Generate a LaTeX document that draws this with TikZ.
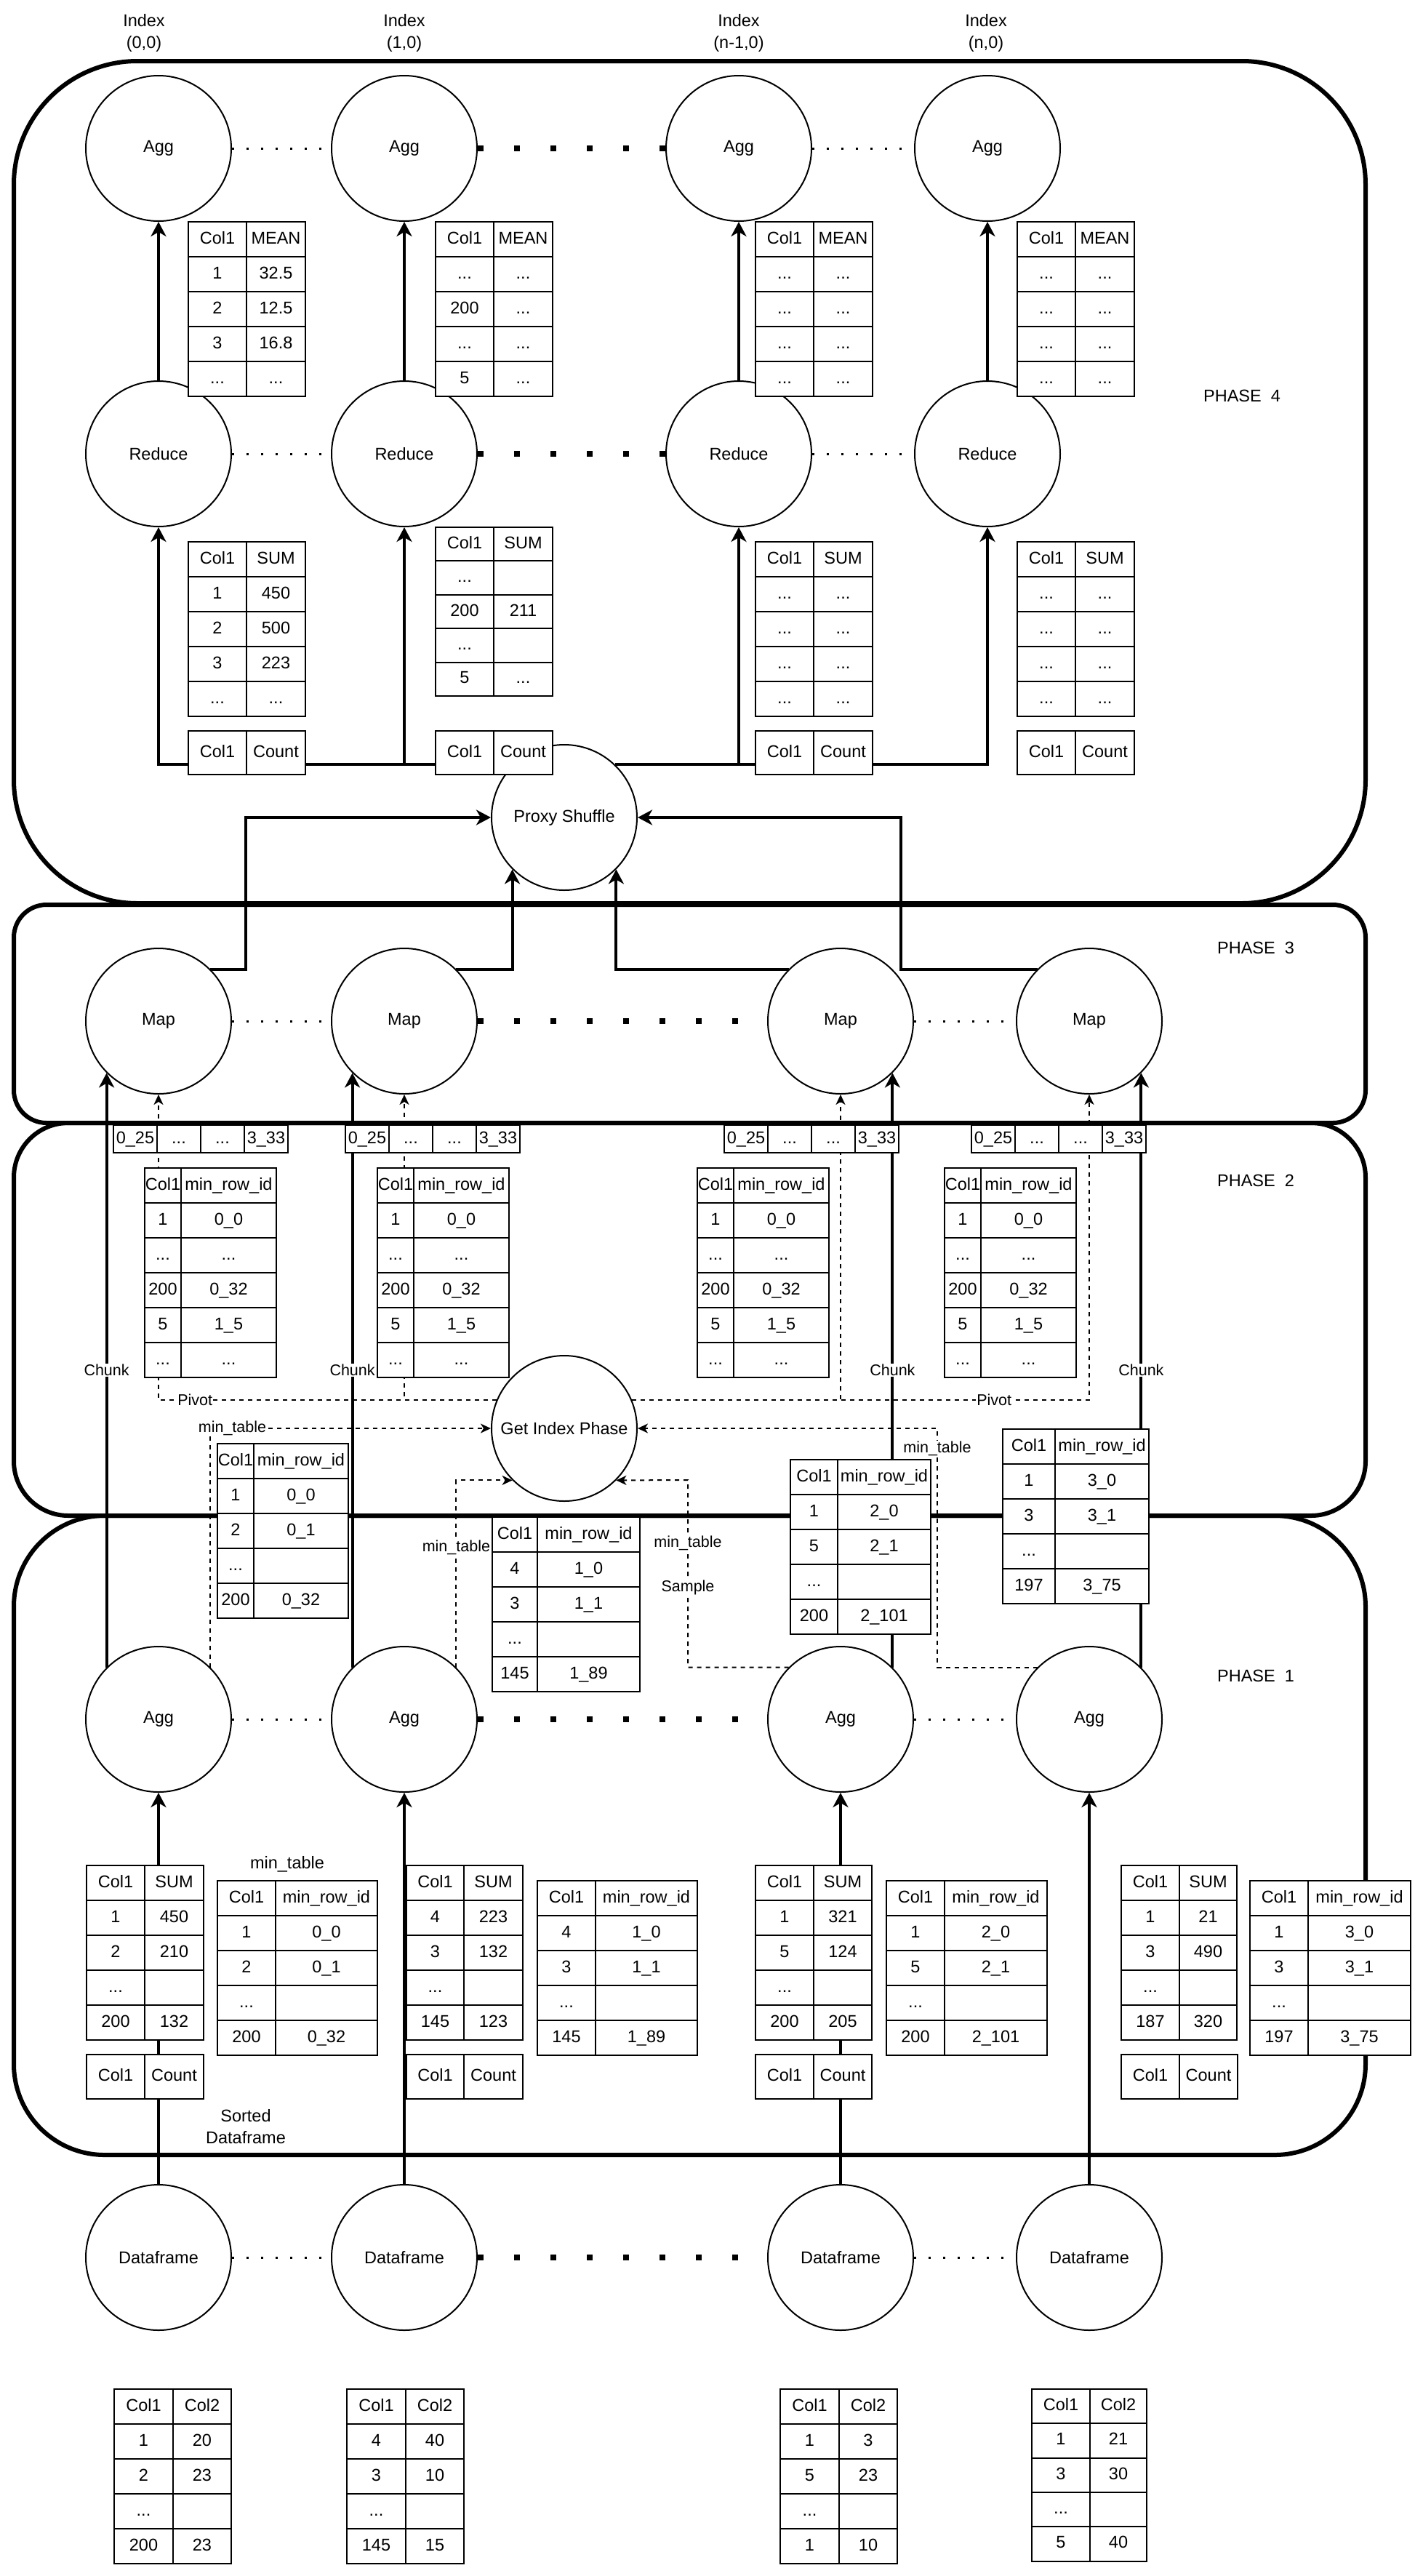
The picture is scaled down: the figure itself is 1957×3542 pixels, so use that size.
\documentclass[tikz,border=0pt]{standalone}
\usepackage{fontspec}
\setmainfont{Liberation Sans}
\usetikzlibrary{arrows.meta,matrix}

\tikzset{
  phasebox/.style={line width=6pt, rounded corners=#1},
  circ/.style={circle, draw, line width=2pt, fill=white, minimum size=200pt, inner sep=0pt},
  flow/.style={line width=4pt, -{Stealth[length=20pt,width=21pt,inset=6pt]}},
  dsh/.style={line width=2pt, dash pattern=on 6pt off 6pt, -{Stealth[length=14pt,width=13pt,inset=4pt]}},
  fdots/.style={line width=3pt, dash pattern=on 3pt off 17pt},
  bdots/.style={line width=8pt, dash pattern=on 8pt off 42pt},
  lbl/.style={fill=white, inner sep=1pt, font=\fontsize{21.5}{26}\selectfont},
  tbl/.style={matrix of nodes, nodes in empty cells, anchor=north west, inner sep=0pt, outer sep=0pt,
    column sep=-2pt, row sep=-2pt,
    nodes={draw, line width=2pt, fill=white, inner sep=0pt, text height=17pt, text depth=5pt, minimum height=#1}},
  tbl/.default=48pt,
  cw/.style 2 args={column 1/.style={nodes={minimum width=#1}}, column 2/.style={nodes={minimum width=#2}}},
}

\begin{document}
\begin{tikzpicture}[x=1pt, y=-1pt, every node/.style={font=\fontsize{23.5}{30}\selectfont}]
\useasboundingbox (0,0) rectangle (1957,3542);

% phases
\draw[phasebox=170pt] (19,84) rectangle (1878,1242);
\draw[phasebox=45pt] (19,1244) rectangle (1878,1544);
\draw[phasebox=75pt] (19,1544) rectangle (1878,2084);
\draw[phasebox=125pt] (19,2084) rectangle (1878,2963);

% phase 4
\node[circ] (agg1) at (218,204) {Agg};
\node[circ] (agg2) at (556,204) {Agg};
\node[circ] (agg3) at (1016,204) {Agg};
\node[circ] (agg4) at (1358,204) {Agg};
\node[circ] (red1) at (218,624) {Reduce};
\node[circ] (red2) at (556,624) {Reduce};
\node[circ] (red3) at (1016,624) {Reduce};
\node[circ] (red4) at (1358,624) {Reduce};
\node[circ] (ps) at (776,1124) {Proxy Shuffle};

% phase 3
\node[circ] (map1) at (218,1404) {Map};
\node[circ] (map2) at (556,1404) {Map};
\node[circ] (map3) at (1156,1404) {Map};
\node[circ] (map4) at (1498,1404) {Map};

% phase 2
\node[circ] (gip) at (776,1964) {Get Index Phase};

% phase 1
\node[circ] (pa1) at (218,2364) {Agg};
\node[circ] (pa2) at (556,2364) {Agg};
\node[circ] (pa3) at (1156,2364) {Agg};
\node[circ] (pa4) at (1498,2364) {Agg};

% input
\node[circ] (df1) at (218,3104) {Dataframe};
\node[circ] (df2) at (556,3104) {Dataframe};
\node[circ] (df3) at (1156,3104) {Dataframe};
\node[circ] (df4) at (1498,3104) {Dataframe};

% dotted rows
\draw[fdots] (agg1) -- (agg2);
\draw[bdots] (agg2) -- (agg3);
\draw[fdots] (agg3) -- (agg4);
\draw[fdots] (red1) -- (red2);
\draw[bdots] (red2) -- (red3);
\draw[fdots] (red3) -- (red4);
\draw[fdots] (map1) -- (map2);
\draw[bdots] (map2) -- (map3);
\draw[fdots] (map3) -- (map4);
\draw[fdots] (pa1) -- (pa2);
\draw[bdots] (pa2) -- (pa3);
\draw[fdots] (pa3) -- (pa4);
\draw[fdots] (df1) -- (df2);
\draw[bdots] (df2) -- (df3);
\draw[fdots] (df3) -- (df4);

% solid flow
\draw[flow] (red1) -- (agg1);
\draw[flow] (red2) -- (agg2);
\draw[flow] (red3) -- (agg3);
\draw[flow] (red4) -- (agg4);
\draw[flow] (ps.134) -| (red1);
\draw[flow] (ps.134) -| (red2);
\draw[flow] (ps.46) -| (red3);
\draw[flow] (ps.46) -| (red4);
\draw[flow] (map1.45) -- ++(49,0) |- (ps);
\draw[flow] (map2.45) -| (ps.-135);
\draw[flow] (map3.135) -| (ps.-45);
\draw[flow] (map4.135) -- ++(-188,0) |- (ps);
\draw[flow] (pa1.135) -- node[lbl] (chunk1) {Chunk} (map1.-135);
\draw[flow] (pa2.135) -- node[lbl] (chunk2) {Chunk} (map2.-135);
\draw[flow] (pa3.45) -- node[lbl] (chunk3) {Chunk} (map3.-45);
\draw[flow] (pa4.45) -- node[lbl] (chunk4) {Chunk} (map4.-45);
\draw[flow] (df1) -- (pa1);
\draw[flow] (df2) -- (pa2);
\draw[flow] (df3) -- (pa3);
\draw[flow] (df4) -- (pa4);

% dashed flow
\draw[dsh] (gip.157) -| node[lbl, pos=0.446] (pivl) {Pivot} (map1);
\draw[dsh] (gip.157) -| (map2);
\draw[dsh] (gip.23) -| (map3);
\draw[dsh] (gip.23) -| node[lbl, pos=0.396] (pivr) {Pivot} (map4);
\draw[dsh] (pa1.45) |- node[lbl, pos=0.539] (mtl1) {min\_table} (gip);
\draw[dsh] (pa2.45) |- node[lbl, pos=0.32] (mtl2) {min\_table} (gip.-135);
\coordinate (bend3) at (946,2035);
\coordinate (bend4) at (1289,1964);
\draw[dsh] (pa3.135) -| node[lbl, pos=0.832] (mtl3) {min\_table} node[lbl, pos=0.712] (smp) {Sample} (bend3) -- (gip.-45);
\draw[dsh] (pa4.135) -| node[lbl, pos=0.957] (mtl4) {min\_table} (bend4) -- (gip);

% tables, phase 4
\matrix (mean1) [tbl, cw={80pt}{81pt}] at (258,304) {Col1 & MEAN\\ 1 & 32.5\\ 2 & 12.5\\ 3 & 16.8\\ ... & ...\\};
\matrix (mean2) [tbl, cw={80pt}{81pt}] at (598,304) {Col1 & MEAN\\ ... & ...\\ 200 & ...\\ ... & ...\\ 5 & ...\\};
\matrix (mean3) [tbl, cw={80pt}{81pt}] at (1038,304) {Col1 & MEAN\\ ... & ...\\ ... & ...\\ ... & ...\\ ... & ...\\};
\matrix (mean4) [tbl, cw={80pt}{81pt}] at (1398,304) {Col1 & MEAN\\ ... & ...\\ ... & ...\\ ... & ...\\ ... & ...\\};
\matrix (sum1) [tbl, cw={80pt}{81pt}] at (258,744) {Col1 & SUM\\ 1 & 450\\ 2 & 500\\ 3 & 223\\ ... & ...\\};
\matrix (sum2) [tbl=46.4pt, cw={80pt}{81pt}] at (598,724) {Col1 & SUM\\ ... & \\ 200 & 211\\ ... & \\ 5 & ...\\};
\matrix (sum3) [tbl, cw={80pt}{81pt}] at (1038,744) {Col1 & SUM\\ ... & ...\\ ... & ...\\ ... & ...\\ ... & ...\\};
\matrix (sum4) [tbl, cw={80pt}{81pt}] at (1398,744) {Col1 & SUM\\ ... & ...\\ ... & ...\\ ... & ...\\ ... & ...\\};
\matrix (cnt1) [tbl=60pt, cw={80pt}{81pt}] at (258,1004) {Col1 & Count\\};
\matrix (cnt2) [tbl=60pt, cw={80pt}{81pt}] at (598,1004) {Col1 & Count\\};
\matrix (cnt3) [tbl=60pt, cw={80pt}{81pt}] at (1038,1004) {Col1 & Count\\};
\matrix (cnt4) [tbl=60pt, cw={80pt}{81pt}] at (1398,1004) {Col1 & Count\\};

% tables, phase 2
\matrix (piv1) [tbl=38pt, nodes={minimum width=60pt}] at (155,1546) {0\_25 & ... & ... & 3\_33\\};
\matrix (piv2) [tbl=38pt, nodes={minimum width=60pt}] at (474,1546) {0\_25 & ... & ... & 3\_33\\};
\matrix (piv3) [tbl=38pt, nodes={minimum width=60pt}] at (995,1546) {0\_25 & ... & ... & 3\_33\\};
\matrix (piv4) [tbl=38pt, nodes={minimum width=60pt}] at (1335,1546) {0\_25 & ... & ... & 3\_33\\};
\matrix (rid1) [tbl=48pt, cw={50pt}{131pt}] at (198,1605) {Col1 & min\_row\_id\\ 1 & 0\_0\\ ... & ...\\ 200 & 0\_32\\ 5 & 1\_5\\ ... & ...\\};
\matrix (rid2) [tbl=48pt, cw={50pt}{131pt}] at (518,1605) {Col1 & min\_row\_id\\ 1 & 0\_0\\ ... & ...\\ 200 & 0\_32\\ 5 & 1\_5\\ ... & ...\\};
\matrix (rid3) [tbl=48pt, cw={50pt}{131pt}] at (958,1605) {Col1 & min\_row\_id\\ 1 & 0\_0\\ ... & ...\\ 200 & 0\_32\\ 5 & 1\_5\\ ... & ...\\};
\matrix (rid4) [tbl=48pt, cw={50pt}{131pt}] at (1298,1605) {Col1 & min\_row\_id\\ 1 & 0\_0\\ ... & ...\\ 200 & 0\_32\\ 5 & 1\_5\\ ... & ...\\};
\matrix (smp1) [tbl=48pt, cw={50pt}{130pt}] at (298,1984) {Col1 & min\_row\_id\\ 1 & 0\_0\\ 2 & 0\_1\\ ... & \\ 200 & 0\_32\\};
\matrix (smp2) [tbl=48pt, cw={62pt}{141pt}] at (676,2085) {Col1 & min\_row\_id\\ 4 & 1\_0\\ 3 & 1\_1\\ ... & \\ 145 & 1\_89\\};
\matrix (smp3) [tbl=48pt, cw={65pt}{128pt}] at (1086,2006) {Col1 & min\_row\_id\\ 1 & 2\_0\\ 5 & 2\_1\\ ... & \\ 200 & 2\_101\\};
\matrix (smp4) [tbl=48pt, cw={72pt}{129pt}] at (1378,1964) {Col1 & min\_row\_id\\ 1 & 3\_0\\ 3 & 3\_1\\ ... & \\ 197 & 3\_75\\};

% tables, phase 1
\matrix (s1) [tbl, cw={80pt}{81pt}] at (118,2564) {Col1 & SUM\\ 1 & 450\\ 2 & 210\\ ... & \\ 200 & 132\\};
\matrix (c1) [tbl=61pt, cw={80pt}{81pt}] at (118,2824) {Col1 & Count\\};
\matrix (m1) [tbl, cw={80pt}{140pt}] at (298,2585) {Col1 & min\_row\_id\\ 1 & 0\_0\\ 2 & 0\_1\\ ... & \\ 200 & 0\_32\\};
\matrix (s2) [tbl, cw={79pt}{81pt}] at (558,2564) {Col1 & SUM\\ 4 & 223\\ 3 & 132\\ ... & \\ 145 & 123\\};
\matrix (c2) [tbl=61pt, cw={79pt}{81pt}] at (558,2824) {Col1 & Count\\};
\matrix (m2) [tbl, cw={80pt}{140pt}] at (738,2585) {Col1 & min\_row\_id\\ 4 & 1\_0\\ 3 & 1\_1\\ ... & \\ 145 & 1\_89\\};
\matrix (s3) [tbl, cw={80pt}{80pt}] at (1038,2564) {Col1 & SUM\\ 1 & 321\\ 5 & 124\\ ... & \\ 200 & 205\\};
\matrix (c3) [tbl=61pt, cw={80pt}{80pt}] at (1038,2824) {Col1 & Count\\};
\matrix (m3) [tbl, cw={80pt}{141pt}] at (1218,2585) {Col1 & min\_row\_id\\ 1 & 2\_0\\ 5 & 2\_1\\ ... & \\ 200 & 2\_101\\};
\matrix (s4) [tbl, cw={80pt}{79pt}] at (1541,2564) {Col1 & SUM\\ 1 & 21\\ 3 & 490\\ ... & \\ 187 & 320\\};
\matrix (c4) [tbl=61pt, cw={80pt}{80pt}] at (1541,2824) {Col1 & Count\\};
\matrix (m4) [tbl, cw={80pt}{141pt}] at (1718,2585) {Col1 & min\_row\_id\\ 1 & 3\_0\\ 3 & 3\_1\\ ... & \\ 197 & 3\_75\\};

% input tables
\matrix (d1) [tbl, cw={81pt}{80pt}] at (156,3284) {Col1 & Col2\\ 1 & 20\\ 2 & 23\\ ... & \\ 200 & 23\\};
\matrix (d2) [tbl, cw={81pt}{80pt}] at (476,3284) {Col1 & Col2\\ 4 & 40\\ 3 & 10\\ ... & \\ 145 & 15\\};
\matrix (d3) [tbl, cw={81pt}{80pt}] at (1072,3284) {Col1 & Col2\\ 1 & 3\\ 5 & 23\\ ... & \\ 1 & 10\\};
\matrix (d4) [tbl=47.3pt, cw={80pt}{78pt}] at (1418,3284) {Col1 & Col2\\ 1 & 21\\ 3 & 30\\ ... & \\ 5 & 40\\};

% labels
\node[align=center] (idx1) at (198,45) {Index\\(0,0)};
\node[align=center] (idx2) at (556,45) {Index\\(1,0)};
\node[align=center] (idx3) at (1016,45) {Index\\(n-1,0)};
\node[align=center] (idx4) at (1356,45) {Index\\(n,0)};
\node (ph4) at (1708,544) {PHASE\ \ 4};
\node (ph3) at (1727,1303) {PHASE\ \ 3};
\node (ph2) at (1727,1623) {PHASE\ \ 2};
\node (ph1) at (1727,2304) {PHASE\ \ 1};
\node (mtab) at (395,2563) {min\_table};
\node[align=center] (sorted) at (338,2924) {Sorted\\Dataframe};
\end{tikzpicture}
\end{document}
